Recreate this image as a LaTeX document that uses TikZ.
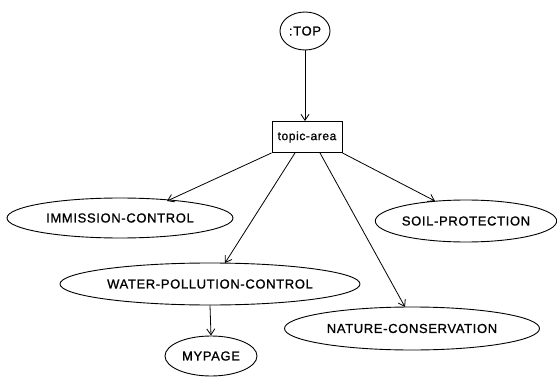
\documentclass[tikz,border=0pt]{standalone}
\usepackage{fontspec}
\setmainfont{Liberation Sans}
\newfontfamily\labfont[LetterSpace=5,FakeBold=1]{Liberation Sans}
\usetikzlibrary{shapes.geometric,arrows.meta}
\begin{document}
\begin{tikzpicture}[x=1pt,y=-1pt,
  ell/.style={draw,ellipse,line width=0.9pt,inner sep=0pt,font=\labfont\fontsize{13}{14}\selectfont},
  boxn/.style={draw,rectangle,line width=0.9pt,inner sep=0pt,font=\labfont\fontsize{12}{14}\selectfont},
  conn/.style={line width=0.8pt,-{Straight Barb[length=6pt,width=8pt]}}]
\useasboundingbox (0,0) rectangle (557,377);
\node[ell,minimum width=50,minimum height=38] (top) at (305,31) {:TOP};
\node[boxn,minimum width=70,minimum height=31] (ta) at (307,137) {topic-area};
\node[ell,minimum width=226,minimum height=40] (imm) at (120,218) {IMMISSION-CONTROL};
\node[ell,minimum width=178,minimum height=42] (soil) at (466,221) {SOIL-PROTECTION};
\node[ell,minimum width=300,minimum height=42] (water) at (210,284) {WATER-POLLUTION-CONTROL};
\node[ell,minimum width=92,minimum height=40] (my) at (211,356) {MYPAGE};
\node[ell,minimum width=255,minimum height=43] (nat) at (412,328.5) {NATURE-CONSERVATION};
\coordinate (tTop) at (ta.north -| top.south);
\draw[conn] (top.south) -- (tTop);
\draw[conn] (ta.south west) -- (167,201);
\draw[conn] (ta.south east) -- (435,201);
\draw[conn] ([xshift=-12pt]ta.south) -- (225,263);
\draw[conn] ([xshift=13pt]ta.south) -- (405,307);
\draw[conn] (water.south) -- (my.north);
\end{tikzpicture}
\end{document}
